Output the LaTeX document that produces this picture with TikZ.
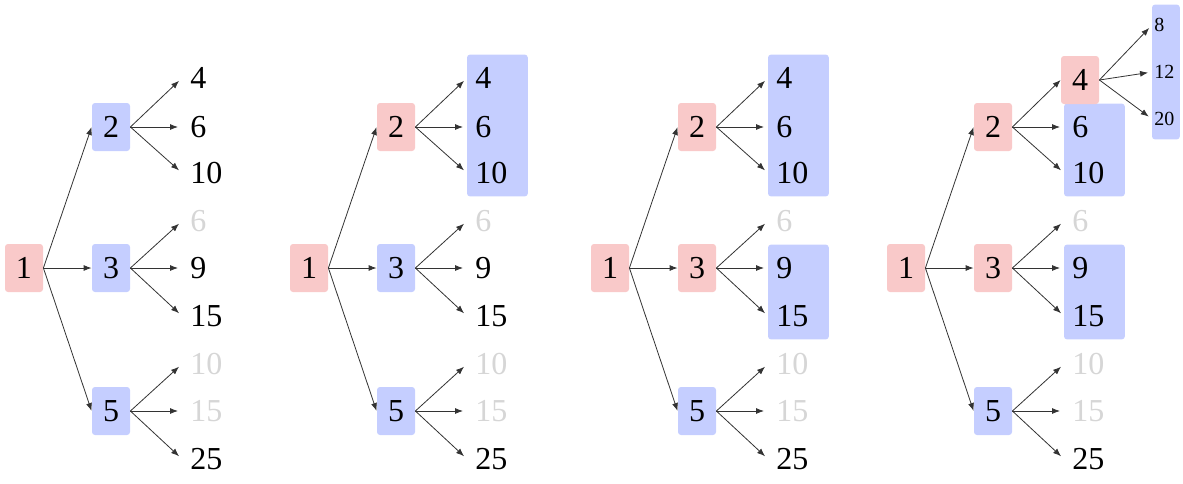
\documentclass[tikz,border=0pt]{standalone}
\usepackage{fontspec}
\setmainfont{Liberation Serif}
\usetikzlibrary{arrows.meta,fit,backgrounds}
\definecolor{Rose}{RGB}{249,201,201}
\definecolor{Lilac}{RGB}{197,206,255}
\definecolor{Faded}{RGB}{214,214,214}
\begin{document}
\begin{tikzpicture}
    [
    x=0.5pt, y=-0.5pt,
    box/.style ={
        rectangle,
        rounded corners=1.5pt,
        minimum width=19pt,
        minimum height=24pt,
        inner sep=0pt
    },
    leaf/.style ={
        anchor=west,
        text width=22pt,
        align=left,
        inner xsep=4pt,
        inner ysep=0pt,
        minimum height=23pt
    },
    old/.style ={
        leaf,
        text=Faded
    },
    small/.style ={
        leaf,
        font=\fontsize{10}{12}\selectfont,
        text width=11.5pt,
        inner xsep=1pt,
        minimum height=20pt
    },
    group/.style ={
        fill=Lilac,
        rounded corners=1.5pt,
        inner sep=0pt
    },
    a/.style={
        -{Latex[length=4pt,width=3pt]},
        draw=black!80,
        line width=0.4pt
    },
    l/.style={
        a,
        shorten >=2pt
    }
    ]
    \fontsize{16}{19}\selectfont
    \useasboundingbox (0,0) rectangle (1183,483);

    \foreach \p/\x/\two/\three in {a/0/Lilac/Lilac,b/285/Rose/Lilac,c/586/Rose/Rose,d/882/Rose/Rose}{
        \node (\p1)[box,fill=Rose] at (\x+24,268) {1};
        \node (\p2)[box,fill=\two] at (\x+111,127) {2};
        \node (\p3)[box,fill=\three] at (\x+111,268) {3};
        \node (\p5)[box,fill=Lilac] at (\x+111,411) {5};

        \if d\p\else
            \node (\p2x4)[leaf] at (\x+182,78) {4};
            \draw[l] (\p2.east) -- (\p2x4.west);
        \fi
        \node (\p2x6)[leaf] at (\x+182,127) {6};
        \node (\p2x10)[leaf] at (\x+182,173) {10};
        \node (\p3x6)[old] at (\x+182,221) {6};
        \node (\p3x9)[leaf] at (\x+182,268) {9};
        \node (\p3x15)[leaf] at (\x+182,316) {15};
        \node (\p5x10)[old] at (\x+182,364) {10};
        \node (\p5x15)[old] at (\x+182,411) {15};
        \node (\p5x25)[leaf] at (\x+182,459) {25};

        \draw[a] (\p1.east) -- (\p2.west);
        \draw[a] (\p1.east) -- (\p3.west);
        \draw[a] (\p1.east) -- (\p5.west);

        \draw[l] (\p2.east) -- (\p2x6.west);
        \draw[l] (\p2.east) -- (\p2x10.west);
        \draw[l] (\p3.east) -- (\p3x6.west);
        \draw[l] (\p3.east) -- (\p3x9.west);
        \draw[l] (\p3.east) -- (\p3x15.west);
        \draw[l] (\p5.east) -- (\p5x10.west);
        \draw[l] (\p5.east) -- (\p5x15.west);
        \draw[l] (\p5.east) -- (\p5x25.west);
    }

    % the 4 of the last tree, and its children
    \node (d4)[box,fill=Rose] at (1080,80) {4};
    \node (d4x8)[small] at (1152,25) {8};
    \node (d4x12)[small] at (1152,72) {12};
    \node (d4x20)[small] at (1152,119) {20};

    \draw[a] (d2.east) -- (d4.west);
    \draw[l] (d4.east) -- (d4x8.west);
    \draw[l] (d4.east) -- (d4x12.west);
    \draw[l] (d4.east) -- (d4x20.west);

    \begin{scope}[on background layer]
        \node (b2box)[group,fit=(b2x4)(b2x10)] {};
        \node (c2box)[group,fit=(c2x4)(c2x10)] {};
        \node (c3box)[group,fit=(c3x9)(c3x15)] {};
        \node (d2box)[group,fit=(d2x6)(d2x10)] {};
        \node (d3box)[group,fit=(d3x9)(d3x15)] {};
        \node (d4box)[group,fit=(d4x8)(d4x20)] {};
    \end{scope}
\end{tikzpicture}
\end{document}
